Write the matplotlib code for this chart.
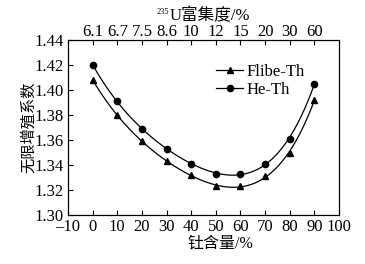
import numpy as np
import matplotlib
matplotlib.use('Agg')
from matplotlib import pyplot as plt

plt.rcParams['font.family'] = ['Liberation Serif', 'Noto Sans CJK SC']

th = [0, 10, 20, 30, 40, 50, 60, 70, 80, 90]          # 钍含量/%
flibe = [1.408, 1.380, 1.359, 1.343, 1.332, 1.323, 1.323, 1.331, 1.350, 1.392]
he = [1.420, 1.391, 1.369, 1.353, 1.341, 1.333, 1.333, 1.341, 1.361, 1.405]
top_labels = ['6.1', '6.7', '7.5', '8.6', '10', '12', '15', '20', '30', '60']

fig = plt.figure(figsize=(3.65, 2.64), dpi=100)
ax = fig.add_axes([68/365, 1-215/264, (339-68)/365, (215-40)/264])

xs = np.linspace(0, 90, 200)
for y, mk, lab in [(flibe, '^', 'Flibe-Th'), (he, 'o', 'He-Th')]:
    p = np.polyfit(th, y, 4)
    ax.plot(xs, np.polyval(p, xs), c='black', lw=0.9)
    ax.plot(th, y, ls='none', marker=mk, ms=4.5, c='black')
    ax.plot([], [], c='black', lw=0.9, marker=mk, ms=4.5, label=lab)

ax.set_xlim(-10, 100)
ax.set_ylim(1.30, 1.44)
ax.set_xticks(range(-10, 101, 10))
ax.set_xticklabels(['–10'] + [str(v) for v in range(0, 101, 10)])
ax.set_yticks(np.arange(1.30, 1.441, 0.02))
ax.set_yticklabels(['%.2f' % v for v in np.arange(1.30, 1.441, 0.02)])
ax.tick_params(direction='in', labelsize=12, length=3.5, width=0.8, pad=3)
ax.set_ylabel('无限增殖系数', fontsize=11, labelpad=-1)
fig.text(220/365, 1 - 243/264, '钍含量/%', fontsize=11.5, ha='center', va='center')

ax2 = ax.twiny()
ax2.set_xlim(ax.get_xlim())
ax2.set_xticks(th)
ax2.set_xticklabels(top_labels)
ax2.tick_params(direction='in', labelsize=12, length=3.5, width=0.8, pad=0)
fig.text(170/365, 1 - 16/264, 'U富集度/%', fontsize=12, ha='left', va='center')
fig.text(169/365, 1 - 12/264, '235', fontsize=6, ha='right', va='center')

ax.legend(loc='upper left', bbox_to_anchor=(0.51, 0.92), frameon=False,
          fontsize=12, handlelength=1.6, handletextpad=0.2, labelspacing=0.1,
          borderaxespad=0.2)

fig.savefig('out.png', dpi=100)
